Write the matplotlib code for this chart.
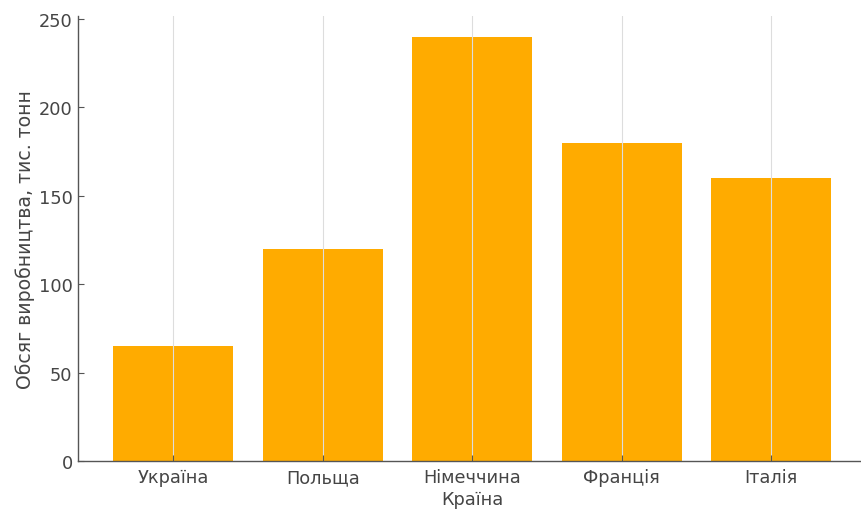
import matplotlib
matplotlib.use('Agg')
import matplotlib.pyplot as plt

countries = ['Україна', 'Польща', 'Німеччина', 'Франція', 'Італія']
production = [65, 120, 240, 180, 160]

BAR_COLOR = '#FFAB00'
INK = '#454545'
FS = 12.8

plt.rcParams['font.family'] = ['DejaVu Sans']

fig = plt.figure(figsize=(8.62, 5.10), dpi=100)
# the reference is a crop, so the axes run past the right edge
ax = fig.add_axes([77.5 / 862, 48 / 510, (867 - 77.5) / 862, (462 - 16.5) / 510])

ax.bar(range(len(countries)), production, width=0.8, color=BAR_COLOR, zorder=1)

ax.set_xticks(range(len(countries)))
ax.set_xticklabels(countries)
ax.set_xlabel('Країна', color=INK, fontsize=FS, labelpad=3)
ax.set_ylabel('Обсяг виробництва, тис. тонн', color=INK, fontsize=13.6, labelpad=3)

ax.grid(axis='x', color='#dddddd', linewidth=0.8, zorder=2)
ax.set_axisbelow(False)

for side in ('top', 'right'):
    ax.spines[side].set_visible(False)
for side in ('left', 'bottom'):
    ax.spines[side].set_color('#555555')
    ax.spines[side].set_linewidth(1.0)

ax.tick_params(direction='in', length=4, color='#555555', labelcolor=INK, labelsize=FS)
ax.tick_params(axis='x', pad=5)

fig.savefig('out.png', dpi=100)
